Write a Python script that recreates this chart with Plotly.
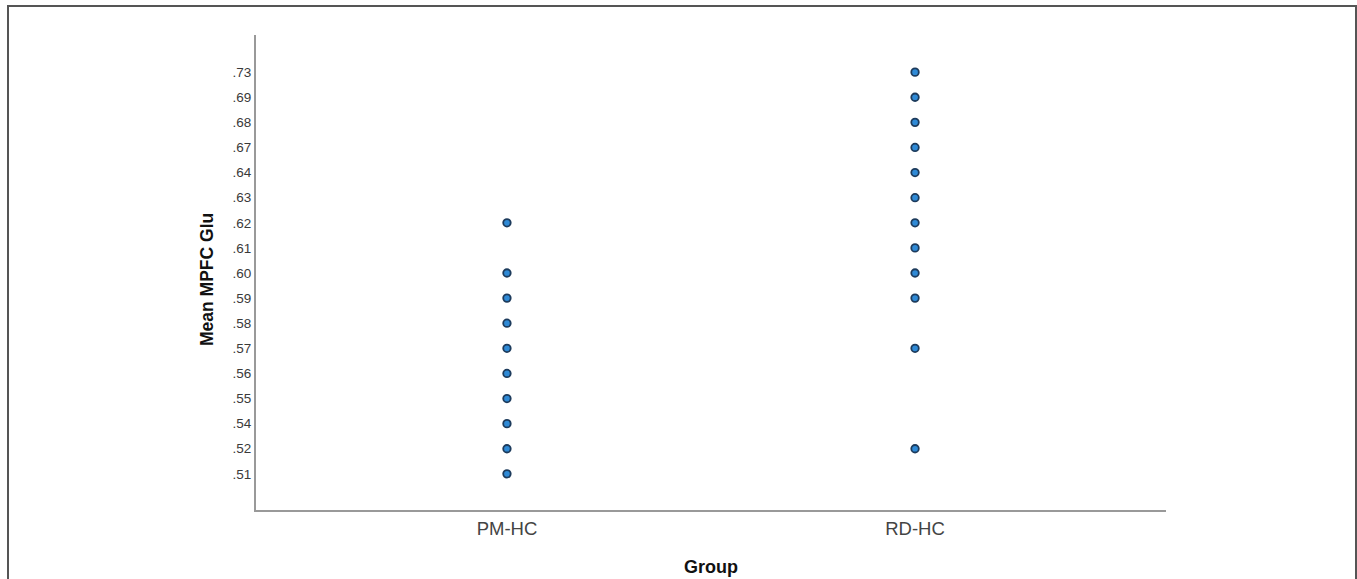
import plotly.graph_objects as go

# Y categories (as shown by the axis, bottom to top)
y_categories = [".51", ".52", ".54", ".55", ".56", ".57", ".58", ".59", ".60",
                ".61", ".62", ".63", ".64", ".67", ".68", ".69", ".73"]
groups = ["PM-HC", "RD-HC"]

pm_hc_values = [".62", ".60", ".59", ".58", ".57", ".56", ".55", ".54", ".52", ".51"]
rd_hc_values = [".73", ".69", ".68", ".67", ".64", ".63", ".62", ".61", ".60", ".59", ".57", ".52"]

W, H = 1357, 579
L, T = 256, 35
R = W - 1166
B = H - 510
pw, ph = W - L - R, H - T - B

fig = go.Figure()
for g, vals in zip(groups, [pm_hc_values, rd_hc_values]):
    fig.add_trace(go.Scatter(
        x=[g] * len(vals), y=vals, mode="markers",
        marker=dict(size=7.5, color="#2f8ad6", line=dict(color="#1d3b5c", width=1.8)),
        showlegend=False, hoverinfo="x+y",
    ))

def px_to_paper_x(px):
    return (px - L) / pw

def px_to_paper_y(py):
    return 1 - (py - T) / ph

fig.update_layout(
    width=W, height=H,
    margin=dict(l=L, r=R, t=T, b=B, autoexpand=False),
    paper_bgcolor="white", plot_bgcolor="white",
    font=dict(family="Liberation Sans, Arial, sans-serif", color="#333333"),
    xaxis=dict(
        type="category", categoryorder="array", categoryarray=groups,
        range=[-0.615, 1.615], automargin=False,
        showline=True, linecolor="#999999", linewidth=2,
        showgrid=False, zeroline=False, ticks="",
        tickfont=dict(size=18.5, color="#444444"),
        ticklabelstandoff=1,
        title=dict(text="<b>Group</b>", font=dict(size=18, color="#111111"), standoff=22),
    ),
    yaxis=dict(
        type="category", categoryorder="array", categoryarray=y_categories,
        range=[-1.44, 17.48], automargin=False,
        showline=True, linecolor="#999999", linewidth=2,
        showgrid=False, zeroline=False, ticks="",
        tickfont=dict(size=13.5, color="#3a3a3a"),
    ),
    annotations=[dict(
        text="<b>Mean MPFC Glu</b>", textangle=-90, showarrow=False,
        xref="paper", yref="paper", x=px_to_paper_x(207), y=px_to_paper_y(280),
        xanchor="center", yanchor="middle",
        font=dict(size=17.5, color="#111111"),
    )],
    shapes=[dict(
        type="rect", xref="paper", yref="paper",
        x0=px_to_paper_x(8), x1=px_to_paper_x(1356),
        y0=px_to_paper_y(600), y1=px_to_paper_y(6),
        line=dict(color="#555555", width=2), fillcolor="rgba(0,0,0,0)", layer="below",
    )],
)

fig.write_html("out.html", config={"displayModeBar": False},
               post_script="document.body.style.margin='0';document.body.style.overflow='hidden';")
